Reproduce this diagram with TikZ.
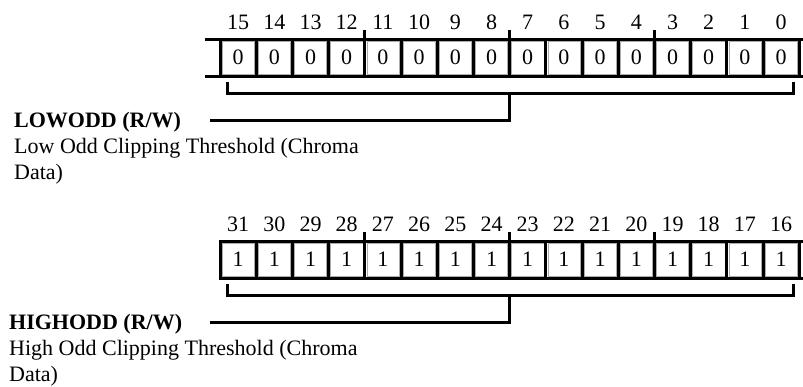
\documentclass[tikz,border=0pt]{standalone}
\usepackage{fontspec}
\setmainfont{Liberation Serif}
\begin{document}
\begin{tikzpicture}[x=1pt,y=-1pt,
  heavy/.style={line width=3pt},
  cellbox/.style={draw=gray!65, line width=0.6pt, minimum width=32.2pt, minimum height=33pt,
    inner sep=0pt, font=\fontsize{22}{26}\selectfont},
  bitnum/.style={inner sep=0pt, font=\fontsize{22}{26}\selectfont},
  regname/.style={inner sep=0pt, anchor=base west, font=\fontsize{22}{26}\selectfont\bfseries},
  regdesc/.style={inner sep=0pt, anchor=base west, align=left, font=\fontsize{22}{26}\selectfont}]
\useasboundingbox (0,0) rectangle (803,386);
\def\cw{36.2}
\foreach \reg/\yo/\val/\base in {A/0/0/15, B/202/1/31} {
  \foreach \i in {0,...,15} {
    \pgfmathsetmacro\xc{220+\cw*\i+\cw/2}
    \pgfmathtruncatemacro\bit{\base-\i}
    \node[cellbox] (\reg c\i) at (\xc, 57.5+\yo) {\val};
    \node[bitnum, anchor=base] (\reg n\i) at (\xc, 29+\yo) {\bit};
    \pgfmathsetmacro\xl{220+\cw*\i}
    \coordinate (\reg t\i) at (\xl, 39+\yo);
    \coordinate (\reg b\i) at (\xl, 76+\yo);
  }
  \coordinate (\reg t16) at (799, 39+\yo);
  \coordinate (\reg b16) at (799, 76+\yo);
  % bracket and connector points
  \coordinate (\reg kl) at (227, 82+\yo);
  \coordinate (\reg kr) at (793, 82+\yo);
  \coordinate (\reg km) at (509.6, 93+\yo);
  \coordinate (\reg lend) at (210, 120+\yo);
}
% register frames
\coordinate (Aext) at (205,39);
\coordinate (Aextb) at (205,76);
\draw[heavy] (Aext) -- (803,39);
\draw[heavy] (Aextb) -- (803,76);
\draw[heavy] (218.5,241) -- (803,241);
\draw[heavy] (218.5,278) -- (803,278);
\foreach \reg in {A,B} {
  \foreach \i in {0,...,16} {
    \draw[heavy] (\reg t\i) -- (\reg b\i);
  }
  \foreach \i in {4,8,12} {
    \draw[heavy] (\reg t\i) -- ++(0,-9.5);
  }
  \draw[heavy] (\reg kl) |- (\reg km) -| (\reg kr);
  \draw[heavy] (\reg km) |- (\reg lend);
}
\node[regname] (Aname) at (14,127) {LOWODD (R/W)};
\node[regdesc] (Adesc) at (14,179) {Low Odd Clipping Threshold (Chroma\\Data)};
\node[regname] (Bname) at (9,329) {HIGHODD (R/W)};
\node[regdesc] (Bdesc) at (9,381) {High Odd Clipping Threshold (Chroma\\Data)};
\end{tikzpicture}
\end{document}
